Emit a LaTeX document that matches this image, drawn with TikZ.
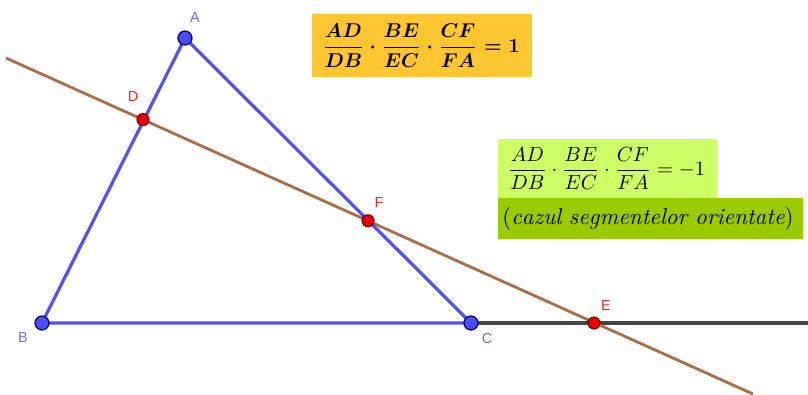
\documentclass[tikz,border=0pt]{standalone}
\usepackage{amsmath}
\usepackage{fontspec}
\newfontfamily\labfont{Liberation Sans}
\definecolor{triblue}{RGB}{82,82,235}
\definecolor{lineBrown}{RGB}{170,110,70}
\definecolor{lineDark}{RGB}{70,70,70}
\definecolor{ptBlue}{RGB}{75,75,255}
\definecolor{ptRed}{RGB}{235,0,0}
\definecolor{labBlue}{RGB}{110,110,210}
\definecolor{labRed}{RGB}{225,40,40}
\definecolor{boxOrange}{RGB}{255,198,48}
\definecolor{boxLight}{RGB}{204,255,102}
\definecolor{boxDark}{RGB}{153,204,0}
\newcommand{\cevaBold}{{\boldmath$\dfrac{AD}{DB}\cdot\dfrac{BE}{EC}\cdot\dfrac{CF}{FA}=1$}}
\newcommand{\cevaNeg}{$\dfrac{AD}{DB}\cdot\dfrac{BE}{EC}\cdot\dfrac{CF}{FA}=-1$}
\newcommand{\cevaNote}{$(\mathit{cazul\ segmentelor\ orientate})$}
\tikzset{
  blueline/.style={draw=triblue, line width=3.2pt, line join=round},
  brownline/.style={draw=lineBrown, line width=2.8pt},
  darkline/.style={draw=lineDark, line width=3.4pt},
  bpt/.style={circle, fill=ptBlue, draw=black!70!blue, line width=1.2pt, minimum size=14pt, inner sep=0pt},
  rpt/.style={circle, fill=ptRed, draw=black!60!red, line width=1.1pt, minimum size=12pt, inner sep=0pt},
  blab/.style={text=labBlue, font=\labfont\fontsize{14.5}{17}\selectfont, inner sep=0pt},
  rlab/.style={text=labRed, font=\labfont\fontsize{14.5}{17}\selectfont, inner sep=0pt},
  formulabox/.style={inner sep=0pt, scale=#1},
}
\begin{document}
\begin{tikzpicture}[x=1pt,y=-1pt]
\useasboundingbox (0,0) rectangle (808,394);
% geometry
\coordinate (A) at (185,38);
\coordinate (B) at (42,323);
\coordinate (C) at (471,323);
\coordinate (D) at (143,119.6);
\coordinate (F) at (368,220.8);
\coordinate (E) at (594,323);
\coordinate (L1) at (6,58);
\coordinate (L2) at (753,394);
\coordinate (R) at (808,323);
% lines
\draw[darkline] (C) -- (R);
\draw[brownline] (L1) -- (L2);
\draw[blueline] (A) -- (B) -- (C) -- cycle;
% points
\node[bpt] (pA) at (A) {};
\node[bpt] (pB) at (B) {};
\node[bpt] (pC) at (C) {};
\node[rpt] (pD) at (D) {};
\node[rpt] (pF) at (F) {};
\node[rpt] (pE) at (E) {};
% labels
\node[blab] (tA) at (195,18) {A};
\node[blab] (tB) at (23,338) {B};
\node[blab] (tC) at (487,339) {C};
\node[rlab] (tD) at (133,97) {D};
\node[rlab] (tF) at (379,203) {F};
\node[rlab] (tE) at (606,306) {E};
% boxes
\fill[boxOrange] (312,14) rectangle (532,77);
\node[formulabox=2.0] (f1) at (421,45.5) {\cevaBold};
\fill[boxLight] (498,139) rectangle (717,198);
\fill[boxDark] (498,198) rectangle (803,239);
\node[formulabox=2.05] (f2) at (606.5,168.5) {\cevaNeg};
\node[formulabox=2.3] (f3) at (648,218.5) {\cevaNote};
\end{tikzpicture}
\end{document}
